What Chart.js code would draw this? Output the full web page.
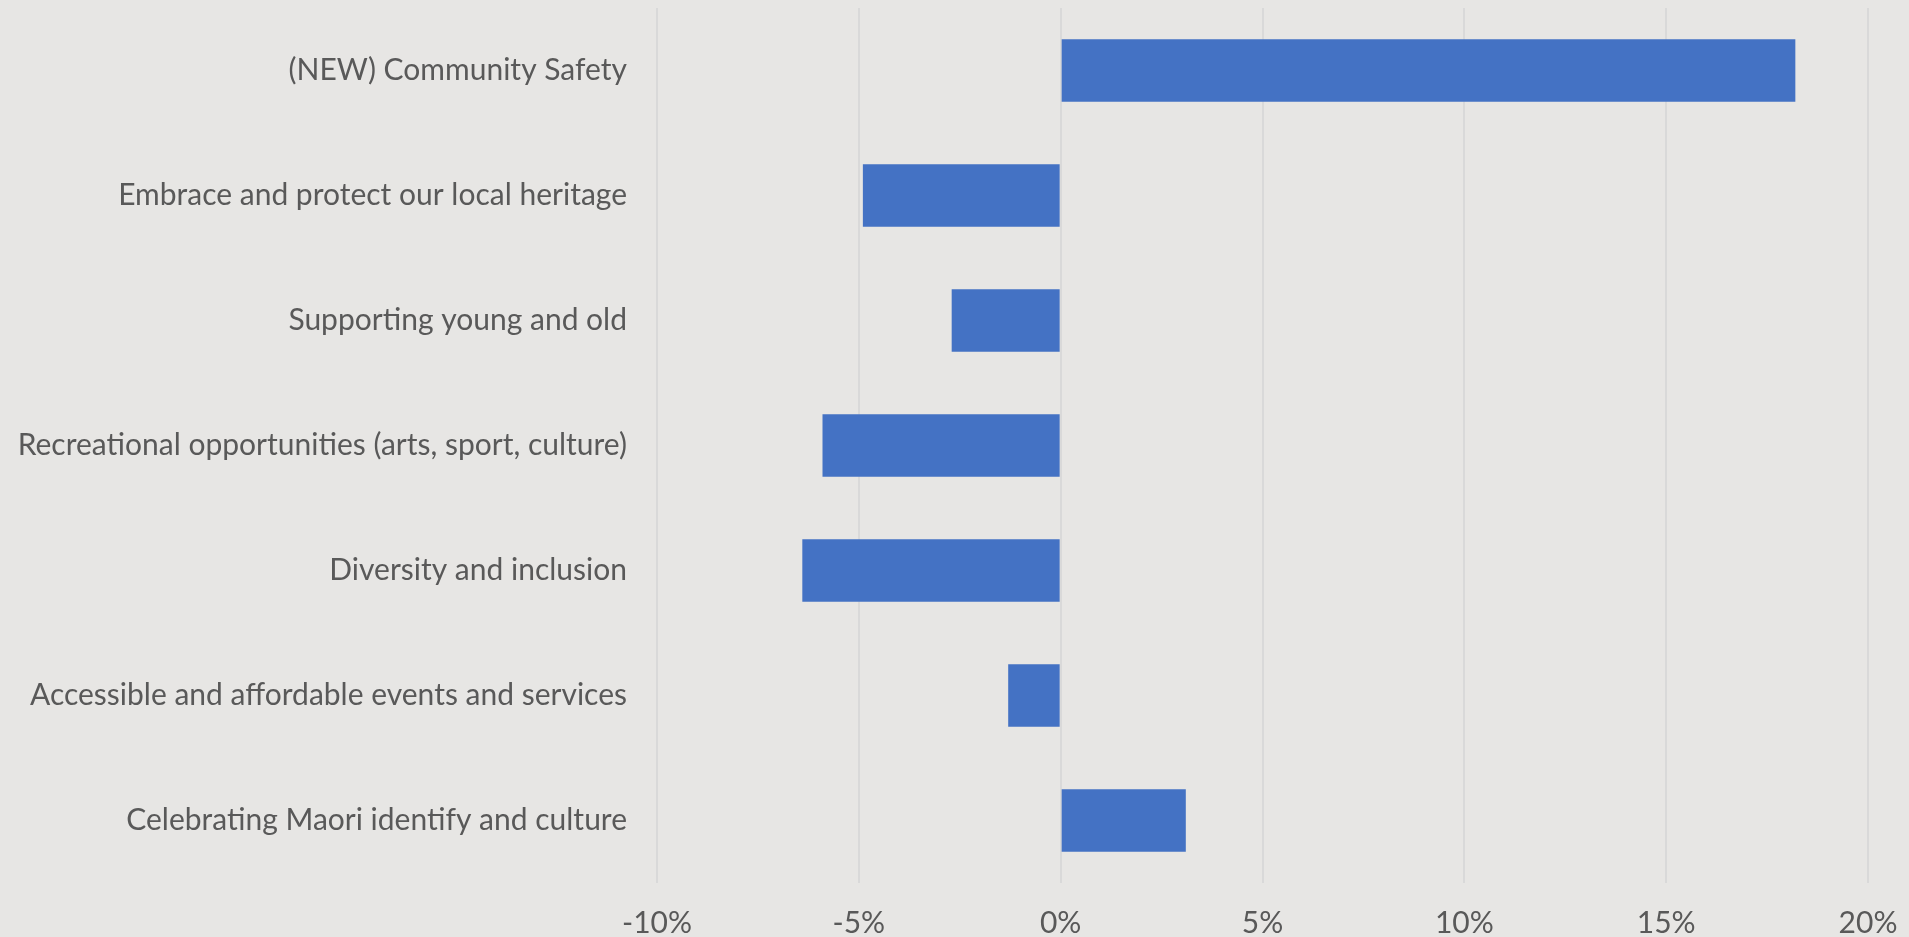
<!DOCTYPE html>
<html>
<head>
<meta charset="utf-8">
<title>Community priorities change</title>
<script src="https://cdn.jsdelivr.net/npm/chart.js@4"></script>
<style>
    html, body { margin: 0; padding: 0; background: #e7e6e4; }
    #wrap { width: 1909px; height: 937px; position: relative; }
</style>
</head>
<body>
<div id="wrap"><canvas id="changeChart"></canvas></div>
<script>
// categories, top to bottom
const categories = [
    '(NEW) Community Safety',
    'Embrace and protect our local heritage',
    'Supporting young and old',
    'Recreational opportunities (arts, sport, culture)',
    'Diversity and inclusion',
    'Accessible and affordable events and services',
    'Celebrating Maori identify and culture'
];
// change in percent points
const changeValues = [18.2, -4.9, -2.7, -5.9, -6.4, -1.3, 3.1];
const tickValues = [-10, -5, 0, 5, 10, 15, 20];

const textColor = '#595959';
const fontFamily = 'Lato, "Open Sans", sans-serif';

const ctx = document.getElementById('changeChart').getContext('2d');
new Chart(ctx, {
    type: 'bar',
    data: {
        labels: categories,
        datasets: [{
            data: changeValues,
            backgroundColor: '#4472c4',
            borderWidth: 0,
            barPercentage: 0.5,
            categoryPercentage: 1.0
        }]
    },
    options: {
        indexAxis: 'y',
        responsive: true,
        maintainAspectRatio: false,
        animation: false,
        layout: { padding: { top: 8, right: 41, bottom: 0, left: 0 } },
        plugins: {
            legend: { display: false },
            tooltip: { enabled: false }
        },
        scales: {
            x: {
                min: tickValues[0],
                max: tickValues[tickValues.length - 1],
                afterBuildTicks: scale => {
                    scale.ticks = tickValues.map(v => ({ value: v }));
                },
                afterFit: scale => {
                    scale.height = 54;
                    scale.paddingLeft = 0;
                    scale.paddingRight = 0;
                },
                grid: { color: '#d9d9d9', lineWidth: 2, drawTicks: false },
                border: { display: false },
                ticks: {
                    color: textColor,
                    padding: 22,
                    font: { family: fontFamily, size: 30 },
                    callback: v => v + '%'
                }
            },
            y: {
                afterFit: scale => {
                    scale.width = 657;
                    scale.paddingTop = 0;
                    scale.paddingBottom = 0;
                },
                grid: { display: false, drawTicks: false },
                border: { display: false },
                ticks: {
                    color: textColor,
                    padding: 30,
                    font: { family: fontFamily, size: 30 }
                }
            }
        }
    }
});
</script>
</body>
</html>
